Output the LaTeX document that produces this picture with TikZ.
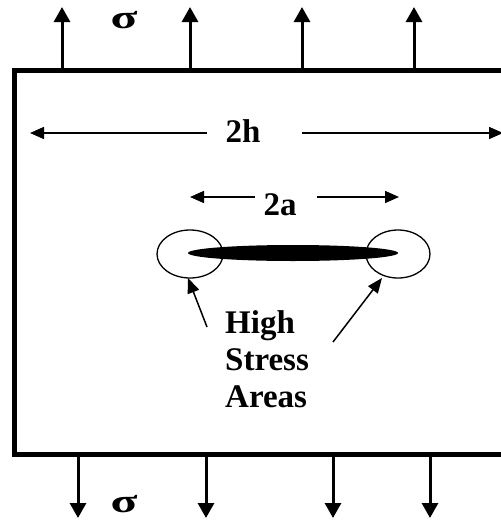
\documentclass[tikz,border=0pt]{standalone}
\usepackage{fontspec}
\setmainfont{Liberation Serif}
\usetikzlibrary{arrows.meta}
\begin{document}
\begin{tikzpicture}[x=1pt,y=-1pt,
  load/.style={line width=3pt,-{Triangle[width=16pt,length=15pt]}},
  dim/.style={line width=1.5pt,-{Triangle[width=12pt,length=14pt]}},
  pointer/.style={line width=1.5pt,-{Triangle[width=12pt,length=15pt]}},
  plate/.style={line width=5pt},
  lbl/.style={font=\fontsize{33}{37}\selectfont\bfseries,inner sep=0pt},
  sig/.style={font=\fontsize{33}{37}\selectfont\bfseries,inner sep=0pt},
  zone/.style={line width=1.3pt}]
\useasboundingbox (0,0) rectangle (501,520);
% plate
\coordinate (tl) at (14,70);
\coordinate (tr) at (510,70);
\coordinate (bl) at (14,454);
\coordinate (br) at (510,454);
\draw[plate] (tr) -- (tl) -- (bl) -- (br);
% top loads
\foreach \x [count=\i] in {62,190,302,414}{
  \coordinate (ts\i) at (\x,70);
  \coordinate (te\i) at (\x,7);
  \draw[load] (ts\i) -- (te\i);
}
% bottom loads
\foreach \x [count=\i] in {78,206,333,430}{
  \coordinate (bs\i) at (\x,454);
  \coordinate (be\i) at (\x,518);
  \draw[load] (bs\i) -- (be\i);
}
\node[sig,anchor=base] (sigT) at (124,28) {\scalebox{1.5}[1]{σ}};
\node[sig,anchor=base] (sigB) at (124,512) {\scalebox{1.5}[1]{σ}};
% 2h
\node[lbl,anchor=base] (h2) at (243,142) {2h};
\coordinate (hL) at (30,133);
\coordinate (hR) at (503,133);
\coordinate (hLs) at (207,133);
\coordinate (hRs) at (302,133);
\draw[dim] (hLs) -- (hL);
\draw[dim] (hRs) -- (hR);
% 2a
\node[lbl,anchor=base] (a2) at (280,215) {2a};
\coordinate (aL) at (190,197);
\coordinate (aR) at (399,197);
\coordinate (aLs) at (255,197);
\coordinate (aRs) at (317,197);
\draw[dim] (aLs) -- (aL);
\draw[dim] (aRs) -- (aR);
% stress zones
\draw[zone] (190,254) ellipse [x radius=33, y radius=24];
\draw[zone] (398,254) ellipse [x radius=32, y radius=24];
% crack
\fill (293,253) ellipse [x radius=105, y radius=8];
% label
\node[lbl,anchor=base west,align=left] (hs) at (225,407) {High\\Stress\\Areas};
\coordinate (pl1) at (207,327);
\coordinate (pl2) at (188,278);
\coordinate (pr1) at (333,342);
\coordinate (pr2) at (382,278);
\draw[pointer] (pl1) -- (pl2);
\draw[pointer] (pr1) -- (pr2);
\end{tikzpicture}
\end{document}
